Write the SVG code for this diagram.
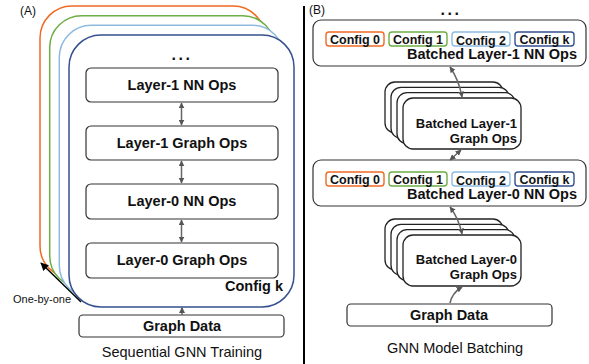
<svg xmlns="http://www.w3.org/2000/svg" width="589" height="364" viewBox="0 0 589 364">
<defs>
<marker id="ah" viewBox="0 0 10 10" refX="9" refY="5" markerWidth="6" markerHeight="6" orient="auto-start-reverse" markerUnits="userSpaceOnUse">
<path d="M0,0 L10,5 L0,10 z" fill="#555"/>
</marker>
<marker id="ahk" viewBox="0 0 10 10" refX="9" refY="5" markerWidth="8" markerHeight="8" orient="auto" markerUnits="userSpaceOnUse">
<path d="M0,0 L10,5 L0,10 z" fill="#000"/>
</marker>
<style>
text{font-family:"Liberation Sans",Arial,sans-serif;fill:#111}
.b{font-weight:bold;font-size:14.5px}
.c{font-weight:bold;font-size:12.5px;text-anchor:middle}
.s{font-weight:bold;font-size:13px;text-anchor:end}
.cap{font-size:14.5px;text-anchor:middle}
.box{fill:#fff;stroke:#333;stroke-width:1.2}
.cfg{fill:#fff;stroke-width:1.5}
.chip{fill:#fff;stroke-width:1.4}
.arr{fill:none;stroke:#666;stroke-width:1.5;marker-start:url(#ah);marker-end:url(#ah)}
.arr1{fill:none;stroke:#666;stroke-width:1.5;marker-end:url(#ah)}
.stk{fill:#fff;stroke:#222;stroke-width:1.3}
</style>
</defs>

<text x="20" y="15" style="font-size:12px">(A)</text>
<text x="309" y="14" style="font-size:12px">(B)</text>
<line x1="304" y1="6" x2="304" y2="364" stroke="#000" stroke-width="2"/>

<g id="configs-a">
<rect class="cfg" x="40" y="6" width="225" height="272" rx="32" stroke="#F06A22"/>
<rect class="cfg" x="49.7" y="15.7" width="225" height="272" rx="32" stroke="#6DAE45"/>
<rect class="cfg" x="59.3" y="25.3" width="225" height="272" rx="32" stroke="#8DBBE0"/>
<rect class="cfg" x="69" y="35" width="225" height="272" rx="32" stroke="#34508F"/>
<text x="283" y="291" class="b" text-anchor="end">Config k</text>
<text x="182" y="60" class="b" text-anchor="middle" letter-spacing="2.5" style="font-size:16px">...</text>
</g>

<g id="a-l1nn"><rect class="box" x="86" y="68" width="192" height="34" rx="5"/><text x="182" y="90" class="b" text-anchor="middle">Layer-1 NN Ops</text></g>
<g id="a-l1g"><rect class="box" x="86" y="126" width="192" height="34" rx="5"/><text x="182" y="148" class="b" text-anchor="middle">Layer-1 Graph Ops</text></g>
<g id="a-l0nn"><rect class="box" x="86" y="184" width="192" height="35" rx="5"/><text x="182" y="206" class="b" text-anchor="middle">Layer-0 NN Ops</text></g>
<g id="a-l0g"><rect class="box" x="86" y="243" width="192" height="35" rx="5"/><text x="182" y="265" class="b" text-anchor="middle">Layer-0 Graph Ops</text></g>
<g id="a-data"><rect class="box" x="79" y="315" width="205" height="22" rx="4"/><text x="182" y="331" class="b" text-anchor="middle">Graph Data</text></g>
<text x="182" y="357" class="cap">Sequential GNN Training</text>
<text x="13" y="303" style="font-size:11px">One-by-one</text>

<text x="451" y="15" class="b" text-anchor="middle" letter-spacing="2.5" style="font-size:16px">...</text>

<g id="b-l1nn">
<rect class="box" x="313" y="20" width="273" height="46" rx="8"/>
<rect class="chip" x="326" y="32" width="58" height="14" rx="3" stroke="#F06A22"/><text x="355" y="44" class="c">Config 0</text>
<rect class="chip" x="389" y="32" width="58" height="14" rx="3" stroke="#6DAE45"/><text x="418" y="44" class="c">Config 1</text>
<rect class="chip" x="452" y="32" width="58" height="14" rx="3" stroke="#8DBBE0"/><text x="481" y="44.5" class="c">Config 2</text>
<rect class="chip" x="515" y="32" width="59" height="14" rx="3" stroke="#34508F"/><text x="544.5" y="44" class="c">Config k</text>
<text x="577" y="59" class="b" text-anchor="end">Batched Layer-1 NN Ops</text>
</g>

<g id="b-l1g">
<rect class="stk" x="385" y="82" width="118" height="51" rx="10"/>
<rect class="stk" x="391" y="87.3" width="118" height="51" rx="10"/>
<rect class="stk" x="397" y="92.7" width="118" height="51" rx="10"/>
<rect class="stk" x="403" y="98" width="118" height="51" rx="10"/>
<text x="517" y="128" class="s">Batched Layer-1</text>
<text x="517" y="143" class="s">Graph Ops</text>
</g>

<g id="b-l0nn">
<rect class="box" x="313" y="160" width="273" height="46" rx="8"/>
<rect class="chip" x="326" y="172" width="58" height="14" rx="3" stroke="#F06A22"/><text x="355" y="184" class="c">Config 0</text>
<rect class="chip" x="389" y="172" width="58" height="14" rx="3" stroke="#6DAE45"/><text x="418" y="184" class="c">Config 1</text>
<rect class="chip" x="452" y="172" width="58" height="14" rx="3" stroke="#8DBBE0"/><text x="481" y="184.5" class="c">Config 2</text>
<rect class="chip" x="515" y="172" width="59" height="14" rx="3" stroke="#34508F"/><text x="544.5" y="184" class="c">Config k</text>
<text x="577" y="199" class="b" text-anchor="end">Batched Layer-0 NN Ops</text>
</g>

<g id="b-l0g">
<rect class="stk" x="385" y="219" width="118" height="51" rx="10"/>
<rect class="stk" x="391" y="224.3" width="118" height="51" rx="10"/>
<rect class="stk" x="397" y="229.7" width="118" height="51" rx="10"/>
<rect class="stk" x="403" y="235" width="118" height="51" rx="10"/>
<text x="517" y="264" class="s">Batched Layer-0</text>
<text x="517" y="279" class="s">Graph Ops</text>
</g>

<g id="b-data"><rect class="box" x="347" y="304" width="205" height="22" rx="4"/><text x="449" y="320" class="b" text-anchor="middle">Graph Data</text></g>
<text x="455" y="353" class="cap">GNN Model Batching</text>

<g id="connectors">
<line class="arr" x1="181.5" y1="103" x2="181.5" y2="125"/>
<line class="arr" x1="181.5" y1="161" x2="181.5" y2="183"/>
<line class="arr" x1="181.5" y1="220" x2="181.5" y2="242"/>
<line class="arr1" x1="182" y1="315" x2="182" y2="307.5"/>
<line x1="81" y1="302" x2="41" y2="263" stroke="#000" stroke-width="1.4" marker-end="url(#ahk)"/>
<path class="arr" d="M450,67 Q459,80 462,97"/>
<path class="arr" d="M461,150 L450,160"/>
<path class="arr" d="M450,207 Q459,219 462,234"/>
<path class="arr1" d="M450,303 Q452,293 462,287"/>
</g>
</svg>
